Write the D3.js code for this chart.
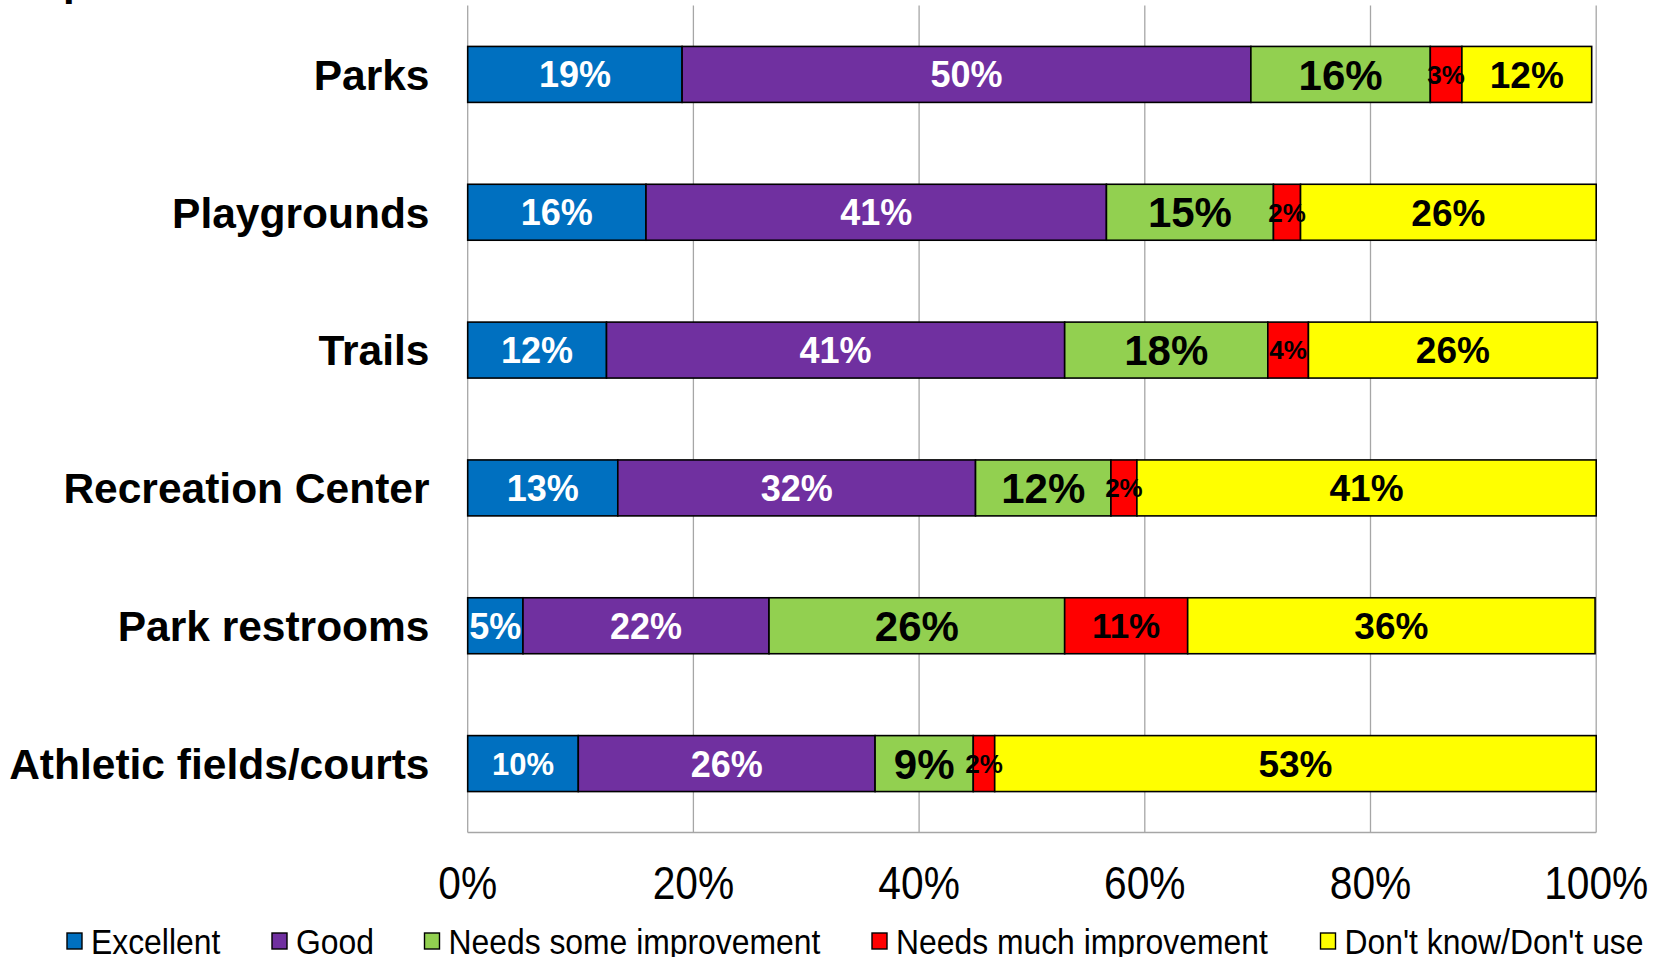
<!DOCTYPE html>
<html>
<head>
<meta charset="utf-8">
<script src="https://cdn.jsdelivr.net/npm/d3@7"></script>
<style>
html,body{margin:0;padding:0;background:#fff;}
svg{display:block;}
text{font-family:"Liberation Sans",Arial,Helvetica,sans-serif;}
</style>
</head>
<body>
<svg id="chart" width="1663" height="957"></svg>
<script>
const categories = ["Parks","Playgrounds","Trails","Recreation Center","Park restrooms","Athletic fields/courts"];
const series = ["Excellent","Good","Needs some improvement","Needs much improvement","Don't know/Don't use"];
const excellent = [19.0,15.8,12.3,13.3,4.9,9.8];
const good = [50.4,40.8,40.6,31.7,21.8,26.3];
const someImprovement = [15.9,14.8,18.0,12.0,26.2,8.7];
const muchImprovement = [2.8,2.4,3.6,2.3,10.9,1.9];
const dontKnow = [11.5,26.2,25.6,40.7,36.1,53.3];
const tickValues = [0,20,40,60,80,100];
const tickLabels = ["0%","20%","40%","60%","80%","100%"];

const seriesValues = [excellent, good, someImprovement, muchImprovement, dontKnow];
const colors = ["#0070C0","#7030A0","#92D050","#FF0000","#FFFF00"];
const labelColors = ["#fff","#fff","#000","#000","#000"];
const labelSizes = [36,36,42,35,37];

const svg = d3.select("#chart");
const x = d3.scaleLinear().domain([0,100]).range([467.7,1596.2]);
const y = d3.scaleBand().domain(categories).range([5.5,832.5]).paddingInner(0.594).paddingOuter(0.297);

// top cut-off title fragment (only the descender is visible)
svg.append("text").attr("x",63).attr("y",-5).attr("font-size",42).attr("font-weight","bold").text("p");

// gridlines
const grid = svg.append("g");
grid.selectAll("line.v").data(tickValues).join("line")
  .attr("x1",d=>x(d)).attr("x2",d=>x(d)).attr("y1",5.5).attr("y2",832.5)
  .attr("stroke","#A6A6A6").attr("stroke-width",1.3);
grid.append("line").attr("x1",x(0)).attr("x2",x(100)).attr("y1",832.5).attr("y2",832.5)
  .attr("stroke","#A6A6A6").attr("stroke-width",1.3);

// stacked data
const rows = categories.map((c,i)=>{
  let acc = 0;
  return series.map((s,j)=>{
    const v = seriesValues[j][i];
    const seg = {cat:c, row:i, col:j, x0:acc, x1:acc+v, v:v};
    acc += v;
    return seg;
  });
}).flat();

const bars = svg.append("g");
bars.selectAll("rect").data(rows).join("rect")
  .attr("x",d=>x(d.x0)).attr("width",d=>x(d.x1)-x(d.x0))
  .attr("y",d=>y(d.cat)).attr("height",y.bandwidth())
  .attr("fill",d=>colors[d.col]).attr("stroke","#000").attr("stroke-width",1.6);

function labelSize(d){
  if(d.col===3 && d.v<6) return 26;
  if(d.col===0 && d.row===5) return 31;
  return labelSizes[d.col];
}

bars.selectAll("text").data(rows).join("text")
  .attr("x",d=>(x(d.x0)+x(d.x1))/2).attr("y",d=>y(d.cat)+y.bandwidth()/2)
  .attr("dy","0.36em").attr("text-anchor","middle")
  .attr("font-weight","bold").attr("font-size",labelSize)
  .attr("fill",d=>labelColors[d.col])
  .text(d=>Math.round(d.v)+"%");

// category labels
svg.append("g").selectAll("text").data(categories).join("text")
  .attr("x",429.5).attr("y",d=>y(d)+y.bandwidth()/2).attr("dy","0.36em")
  .attr("text-anchor","end").attr("font-weight","bold").attr("font-size",42.5)
  .text(d=>d);

// tick labels (condensed)
svg.append("g").selectAll("text").data(tickValues).join("text")
  .attr("transform",d=>`translate(${x(d)},899) scale(0.885,1)`)
  .attr("text-anchor","middle").attr("font-size",46)
  .text((d,i)=>tickLabels[i]);

// legend
const legendX = [67,272,424.5,872,1320.5];
const lg = svg.append("g").selectAll("g").data(series).join("g")
  .attr("transform",(d,i)=>`translate(${legendX[i]},941)`);
lg.append("rect").attr("x",0).attr("y",-8).attr("width",15).attr("height",16)
  .attr("fill",(d,i)=>colors[i]).attr("stroke","#000").attr("stroke-width",1.4);
lg.append("text").attr("transform","translate(24,13) scale(0.885,1)")
  .attr("font-size",36).text(d=>d);
</script>
</body>
</html>
